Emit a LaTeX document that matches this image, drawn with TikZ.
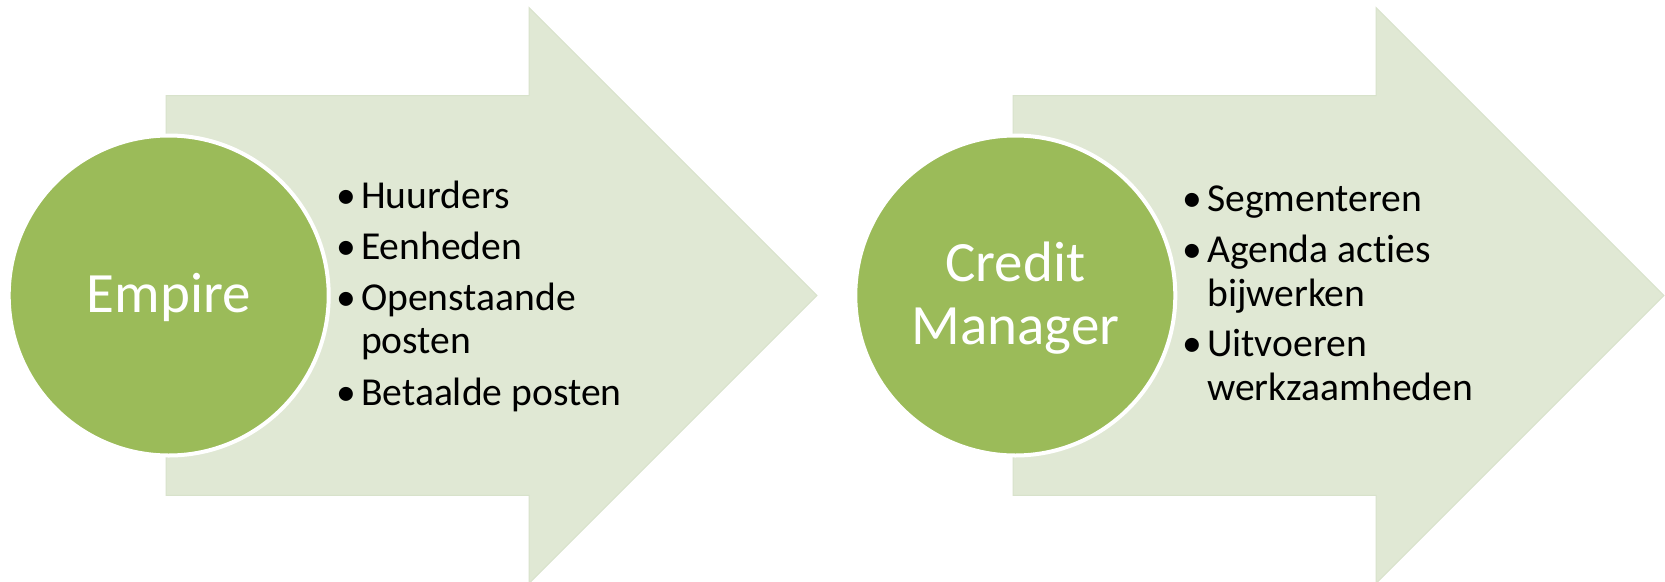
\documentclass[tikz,border=0pt]{standalone}
\usepackage{fontspec}
\setmainfont{Carlito}[Ligatures={NoCommon,NoRare}]
\definecolor{arrowfill}{RGB}{224,232,212}
\definecolor{arrowedge}{RGB}{216,226,203}
\definecolor{circgreen}{RGB}{155,187,89}
\tikzset{
  bigarrow/.style={fill=arrowfill, draw=arrowedge, line width=1pt, line join=miter},
  circ/.style={circle, minimum size=320pt, inner sep=0pt, fill=circgreen, draw=white, line width=4pt},
  circtext/.style={anchor=base, inner sep=0pt, text=white, font=\fontsize{57}{63.4}\selectfont, align=center},
  itemtext/.style={anchor=base west, inner sep=0pt, text=black, font=\fontsize{39.6}{43.3}\selectfont},
}
\newcommand{\bul}{\llap{\textbullet\hspace{5pt}}}
\begin{document}
\begin{tikzpicture}[x=1pt,y=-1pt]
\useasboundingbox (0,0) rectangle (1665,581);
\clip (0,0) rectangle (1665,581);
\fill[white] (0,0) rectangle (1665,581);
% arrow 1
\draw[bigarrow] (166,95.7) -- (529,95.7) -- (529,7.5) -- (817,295.5) -- (529,583.5) -- (529,495.3) -- (166,495.3) -- cycle;
% arrow 2
\draw[bigarrow] (1013,95.7) -- (1376,95.7) -- (1376,7.5) -- (1664,295.5) -- (1376,583.5) -- (1376,495.3) -- (1013,495.3) -- cycle;
% circles
\node[circ] (c1) at (168.7,295.5) {};
\node[circ] (c2) at (1015.3,295.5) {};
\node[circtext] (t1) at (168.7,312) {Empire};
\node[circtext] (t2) at (1015.3,344.5) {Credit\\Manager};
% list 1
\node[itemtext] (a1) at (361,208.3) {\bul Huurders};
\node[itemtext] (a2) at (361,259.3) {\bul Eenheden};
\node[itemtext] (a3) at (361,310) {\bul Openstaande};
\node[itemtext] (a3b) at (361,353.3) {posten};
\node[itemtext] (a4) at (361,405) {\bul Betaalde posten};
% list 2
\node[itemtext] (b1) at (1207,211.7) {\bul Segmenteren};
\node[itemtext] (b2) at (1207,262.7) {\bul Agenda acties};
\node[itemtext] (b2b) at (1207,306) {bijwerken};
\node[itemtext] (b3) at (1207,356.7) {\bul Uitvoeren};
\node[itemtext] (b3b) at (1207,400) {werkzaamheden};
\end{tikzpicture}
\end{document}
